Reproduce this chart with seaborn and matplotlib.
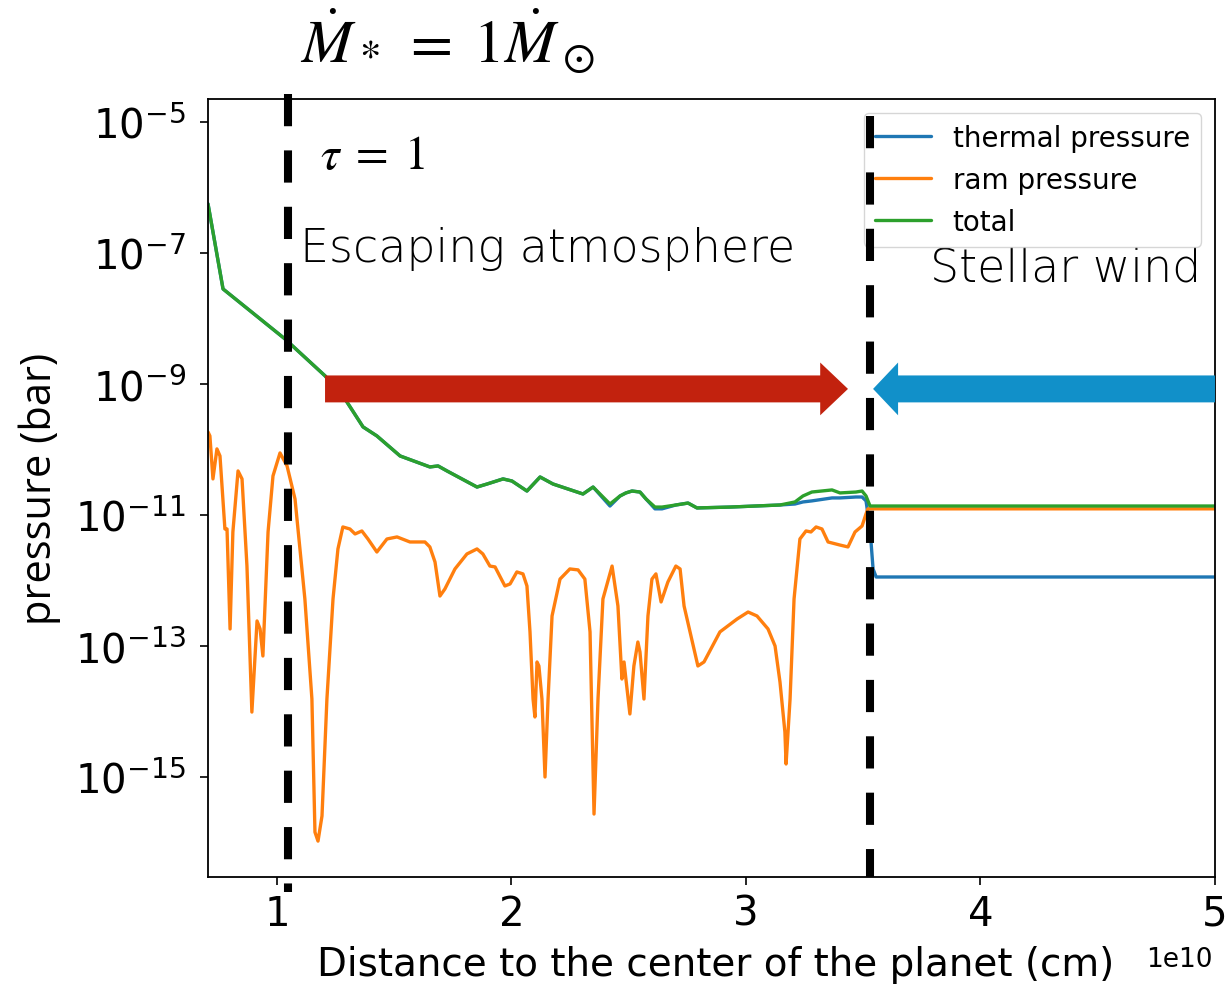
import numpy as np
import pandas as pd
import matplotlib
matplotlib.use("Agg")
import matplotlib.pyplot as plt
import seaborn as sns
from matplotlib.patches import FancyArrowPatch, ArrowStyle
from matplotlib.ticker import NullLocator

# --- DATA (distance in units of 1e10 cm, pressure in bar) ---
x_main = [0.706, 0.770, 1.034, 1.205, 1.290, 1.367, 1.426, 1.525, 1.652, 1.687,
          1.725, 1.853, 1.896, 1.964, 2.002, 2.066, 2.122, 2.177, 2.305, 2.348,
          2.420, 2.463, 2.488, 2.514, 2.548, 2.574, 2.612, 2.642, 2.701, 2.753,
          2.791, 2.932, 3.145, 3.209, 3.243, 3.281, 3.367, 3.401, 3.469, 3.495,
          3.512, 3.529, 3.542, 3.555, 5.000]

total_p = [5.6e-7, 2.82e-8, 4.87e-9, 1.33e-9, 5.90e-10, 2.21e-10, 1.61e-10, 7.96e-11, 5.41e-11, 5.60e-11,
           4.70e-11, 2.67e-11, 2.97e-11, 3.55e-11, 3.30e-11, 2.32e-11, 3.80e-11, 2.97e-11, 2.09e-11, 2.67e-11,
           1.47e-11, 1.95e-11, 2.17e-11, 2.32e-11, 2.24e-11, 1.75e-11, 1.32e-11, 1.32e-11, 1.42e-11, 1.52e-11,
           1.28e-11, 1.32e-11, 1.42e-11, 1.58e-11, 1.95e-11, 2.24e-11, 2.41e-11, 2.17e-11, 2.24e-11, 2.32e-11,
           1.95e-11, 1.37e-11, 1.37e-11, 1.37e-11, 1.37e-11]

thermal_p = [5.6e-7, 2.82e-8, 4.87e-9, 1.33e-9, 5.90e-10, 2.21e-10, 1.61e-10, 7.96e-11, 5.41e-11, 5.60e-11,
             4.70e-11, 2.67e-11, 2.97e-11, 3.55e-11, 3.30e-11, 2.32e-11, 3.80e-11, 2.97e-11, 2.09e-11, 2.67e-11,
             1.37e-11, 1.95e-11, 2.17e-11, 2.32e-11, 2.24e-11, 1.75e-11, 1.24e-11, 1.24e-11, 1.42e-11, 1.52e-11,
             1.28e-11, 1.32e-11, 1.42e-11, 1.47e-11, 1.58e-11, 1.64e-11, 1.82e-11, 1.82e-11, 1.88e-11, 1.88e-11,
             1.64e-11, 6.11e-12, 1.50e-12, 1.13e-12, 1.13e-12]

x_ram = [0.706, 0.714, 0.727, 0.744, 0.757, 0.778, 0.787, 0.800, 0.812, 0.834,
         0.851, 0.872, 0.893, 0.915, 0.928, 0.940, 0.962, 0.983, 1.013, 1.043,
         1.077, 1.119, 1.149, 1.162, 1.175, 1.192, 1.213, 1.239, 1.260, 1.281,
         1.311, 1.333, 1.362, 1.388, 1.426, 1.469, 1.512, 1.567, 1.631, 1.652,
         1.674, 1.695, 1.716, 1.759, 1.810, 1.853, 1.878, 1.908, 1.930, 1.972,
         1.994, 2.023, 2.049, 2.066, 2.079, 2.092, 2.100, 2.109, 2.117, 2.130,
         2.143, 2.156, 2.173, 2.207, 2.249, 2.284, 2.313, 2.335, 2.352, 2.369,
         2.390, 2.429, 2.454, 2.471, 2.480, 2.488, 2.505, 2.522, 2.539, 2.548,
         2.565, 2.582, 2.599, 2.616, 2.638, 2.667, 2.701, 2.719, 2.736, 2.795,
         2.821, 2.889, 2.962, 3.009, 3.047, 3.094, 3.124, 3.145, 3.166, 3.171,
         3.188, 3.205, 3.230, 3.256, 3.277, 3.299, 3.324, 3.350, 3.400, 3.435,
         3.465, 3.495, 3.512, 3.520, 5.000]

ram_p = [1.85e-10, 1.61e-10, 3.55e-11, 1.02e-10, 7.96e-11, 6.11e-12, 6.11e-12, 1.82e-13, 5.50e-12, 4.70e-11,
         3.55e-11, 1.66e-12, 9.8e-15, 2.41e-13, 1.82e-13, 7.03e-14, 5.50e-12, 3.94e-11, 8.85e-11, 5.60e-11,
         1.75e-11, 5.22e-13, 1.55e-14, 1.44e-16, 1.05e-16, 2.54e-16, 1.55e-14, 5.22e-13, 3.03e-12, 6.56e-12,
         6.11e-12, 5.13e-12, 5.70e-12, 4.30e-12, 2.72e-12, 4.30e-12, 4.62e-12, 3.87e-12, 3.87e-12, 3.25e-12,
         1.91e-12, 5.79e-13, 7.41e-13, 1.50e-12, 2.54e-12, 3.03e-12, 2.54e-12, 1.66e-12, 1.61e-12, 8.24e-13,
         8.85e-13, 1.35e-12, 1.26e-12, 8.24e-13, 1.64e-13, 1.55e-14, 8.24e-15, 5.70e-14, 4.95e-14, 1.55e-14,
         1.0e-15, 1.55e-14, 2.87e-13, 1.05e-12, 1.50e-12, 1.45e-12, 1.05e-12, 1.64e-13, 2.72e-16, 1.55e-14,
         5.22e-13, 1.66e-12, 4.08e-13, 3.13e-14, 5.70e-14, 3.13e-14, 9.16e-15, 4.95e-14, 1.15e-13, 8.09e-14,
         1.55e-14, 2.87e-13, 1.05e-12, 1.26e-12, 4.70e-13, 9.48e-13, 1.66e-12, 1.50e-12, 4.08e-13, 4.95e-14,
         5.70e-14, 1.64e-13, 2.58e-13, 3.30e-13, 2.87e-13, 1.82e-13, 1.0e-13, 2.82e-14, 4.87e-15, 1.58e-15,
         1.55e-14, 5.22e-13, 4.30e-12, 5.70e-12, 5.50e-12, 6.56e-12, 6.11e-12, 3.87e-12, 3.48e-12, 3.25e-12,
         5.50e-12, 6.79e-12, 1.04e-11, 1.24e-11, 1.24e-11]

SERIES = ['thermal pressure', 'ram pressure', 'total']
COLORS = {'thermal pressure': '#1f77b4', 'ram pressure': '#ff7f0e', 'total': '#2ca02c'}

# --- STYLE ---
sns.set_style("ticks", rc={"axes.edgecolor": "black", "xtick.color": "black",
                           "ytick.color": "black", "text.color": "black",
                           "axes.labelcolor": "black"})
plt.rcParams['font.family'] = ['DejaVu Sans']

fig = plt.figure(figsize=(12.28, 9.87), dpi=100)
ax = fig.add_axes([0.1694, 0.1104, 0.8200, 0.7883])

df = pd.concat([
    pd.DataFrame({'x': x_main, 'p': thermal_p, 'kind': 'thermal pressure'}),
    pd.DataFrame({'x': x_ram, 'p': ram_p, 'kind': 'ram pressure'}),
    pd.DataFrame({'x': x_main, 'p': total_p, 'kind': 'total'}),
], ignore_index=True)

sns.lineplot(data=df, x='x', y='p', hue='kind', hue_order=SERIES, palette=COLORS,
             estimator=None, sort=False, lw=2.4, legend=False, ax=ax)
ax.set_yscale('log')

handles = ax.get_lines()[:3]
ax.legend(handles, SERIES, loc='upper right', fontsize=20, framealpha=0.8,
          edgecolor='0.8', borderaxespad=0.5, handlelength=2.0)

# --- ANNOTATIONS (overlay) ---
dash = dict(color='black', lw=5.8, ls=(0, (4, 3)), clip_on=False, zorder=10,
            dash_capstyle='butt')
ax.plot([1.047, 1.047], [2.67e-5, 1.75e-17], **dash)
ax.plot([3.53, 3.53], [1.24e-5, 2.97e-17], **dash)

y_arrow = 8.4e-10
red = FancyArrowPatch((1.205, y_arrow), (3.435, y_arrow),
                      arrowstyle=ArrowStyle.Simple(head_length=20, head_width=38, tail_width=19.4),
                      mutation_scale=1, color='#C2220E', lw=0, shrinkA=0, shrinkB=0, zorder=6)
blue = FancyArrowPatch((5.0, y_arrow), (3.542, y_arrow),
                       arrowstyle=ArrowStyle.Simple(head_length=18, head_width=38, tail_width=19.4),
                       mutation_scale=1, color='#1190C9', lw=0, shrinkA=0, shrinkB=0, zorder=6)
ax.add_patch(red)
ax.add_patch(blue)

ax.text(1.183, 2.0e-6, r'$\tau\;=\;1$', fontsize=34, math_fontfamily='stix', va='baseline')
ax.text(1.098, 7.55e-8, 'Escaping atmosphere', fontsize=33, fontweight='light', va='baseline')
ax.text(3.785, 3.74e-8, 'Stellar wind', fontsize=33, fontweight='light', va='baseline')
fig.text(0.2443, 0.936, r'$\dot{M}_*\;=\;1\dot{M}_\odot$', fontsize=44,
         math_fontfamily='stix', va='baseline')
fig.text(0.9878, 0.0203, '1e10', fontsize=19, ha='right', va='baseline')

# --- AXES ---
ax.set_xlim(0.706, 5.0)
ax.set_ylim(2.97e-17, 2.24e-5)
ax.set_xticks([1, 2, 3, 4, 5])
ax.set_yticks([1e-15, 1e-13, 1e-11, 1e-9, 1e-7, 1e-5])
ax.yaxis.set_minor_locator(NullLocator())
ax.tick_params(axis='both', labelsize=29, length=6, width=1.2, direction='out')
ax.tick_params(axis='y', pad=10)
ax.tick_params(axis='x', pad=6)
for s in ax.spines.values():
    s.set_linewidth(1.3)

ax.set_xlabel('Distance to the center of the planet (cm)', fontsize=28, va='center')
ax.xaxis.set_label_coords(0.5045, -0.112)
ax.set_ylabel('pressure (bar)', fontsize=30, fontfamily='Open Sans', va='center')
ax.yaxis.set_label_coords(-0.167, 0.5)

fig.savefig('out.png', dpi=100)
